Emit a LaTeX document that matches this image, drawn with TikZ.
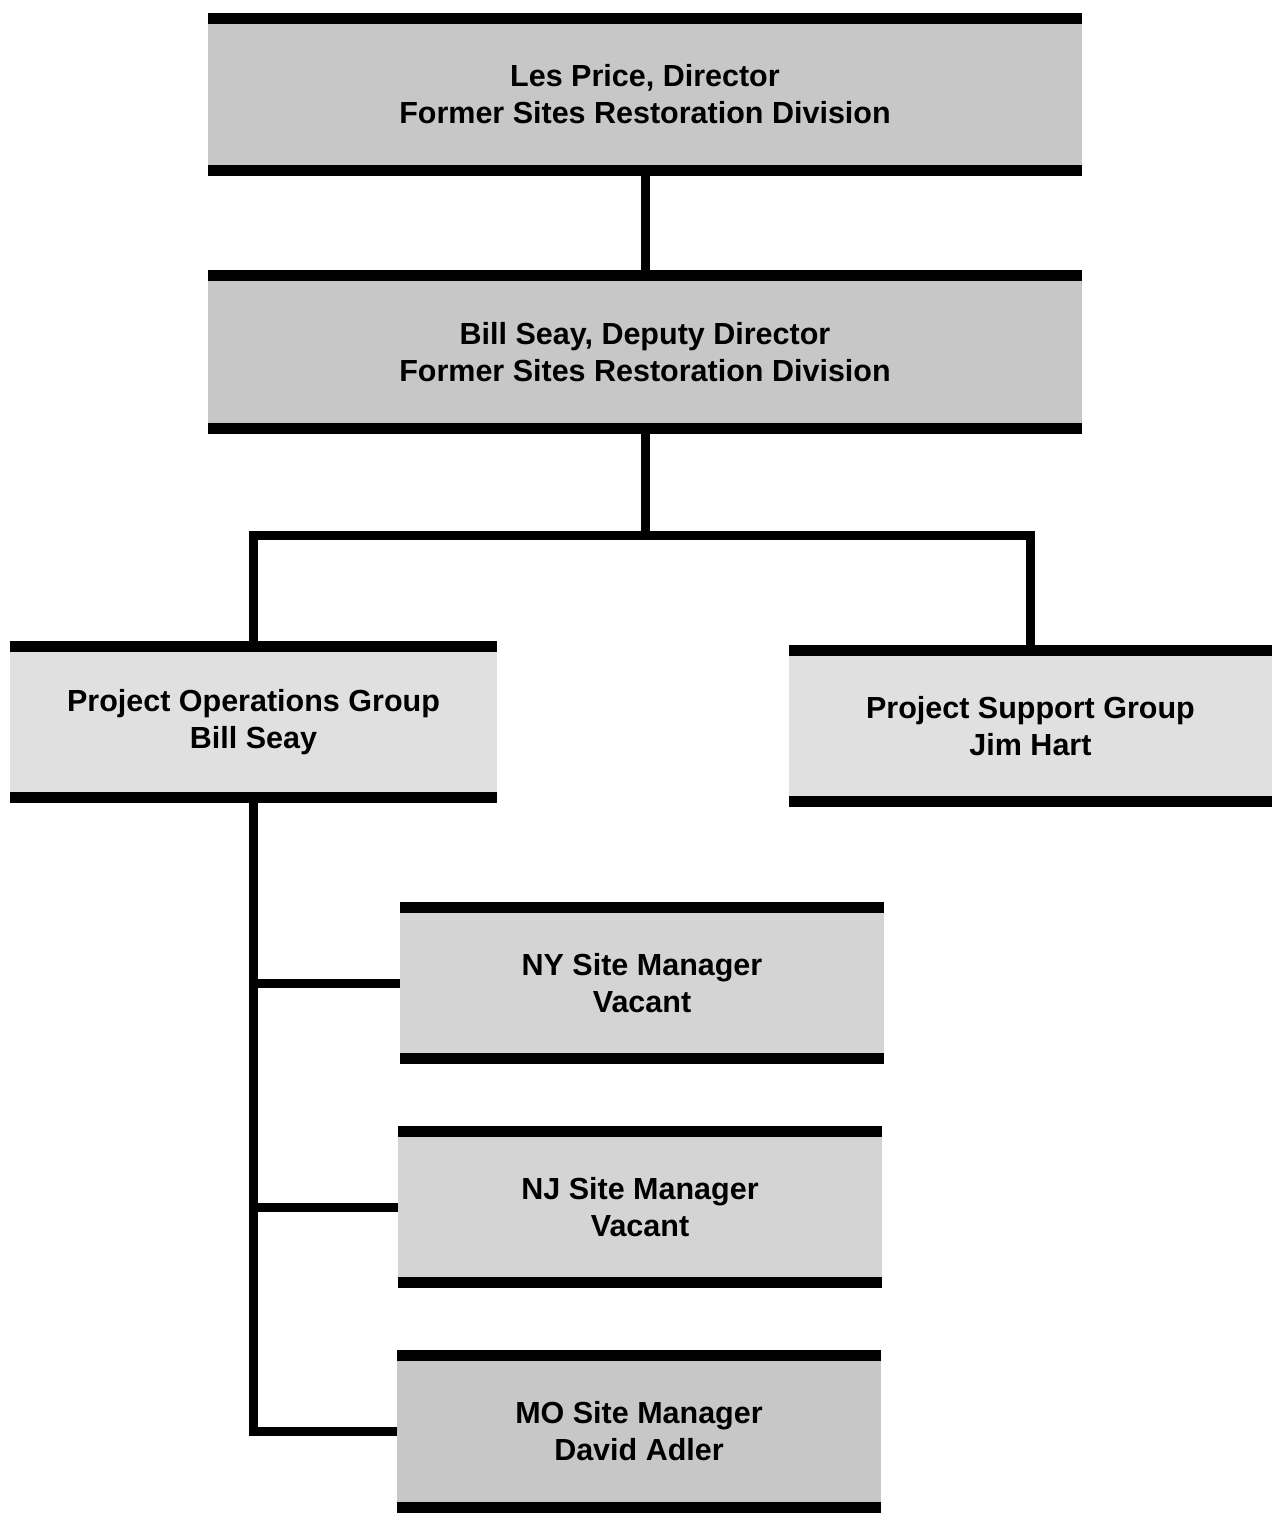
\documentclass[tikz,border=0pt]{standalone}
\usepackage{fontspec}
\setmainfont{Liberation Sans}
\begin{document}
\begin{tikzpicture}[x=1pt,y=-1pt,
  orgbox/.style={fill=#1, draw=none, inner sep=0pt, align=center,
    font=\fontsize{30.5}{37}\selectfont\bfseries,
    execute at end node={\vspace{10pt}}},
  bar/.style={line width=11pt, line cap=butt},
  conn/.style={line width=9pt, line cap=butt}]
\useasboundingbox (0,0) rectangle (1274,1517);
\node[orgbox=black!22, minimum width=874pt, minimum height=151pt] (b1) at (645,94.5)
  {Les Price, Director\\Former Sites Restoration Division};
\node[orgbox=black!22, minimum width=874pt, minimum height=152pt] (b2) at (645,352)
  {Bill Seay, Deputy Director\\Former Sites Restoration Division};
\node[orgbox=black!12, minimum width=487pt, minimum height=150pt] (b3) at (253.5,722)
  {Project Operations Group\\Bill Seay};
\node[orgbox=black!12, minimum width=483pt, minimum height=150pt] (b4) at (1030.5,726)
  {Project Support Group\\Jim Hart};
\node[orgbox=black!17, minimum width=484pt, minimum height=150pt] (b5) at (642,983)
  {NY Site Manager\\Vacant};
\node[orgbox=black!17, minimum width=484pt, minimum height=150pt] (b6) at (640,1207)
  {NJ Site Manager\\Vacant};
\node[orgbox=black!22, minimum width=484pt, minimum height=151pt] (b7) at (639,1431.5)
  {MO Site Manager\\David Adler};
\foreach \n in {b1,b2,b3,b4,b5,b6,b7}
  \draw[bar] (\n.north west) -- (\n.north east) (\n.south west) -- (\n.south east);
\coordinate (j) at (645,535);
\draw[conn] (b1.south) -- (b2.north);
\draw[conn] (b2.south) -- (j);
\draw[conn] (b3.north) |- (j) -| (b4.north);
\draw[conn] (b3.south) |- (b7.west);
\draw[conn] (b3.south |- b5.west) -- (b5.west);
\draw[conn] (b3.south |- b6.west) -- (b6.west);
\end{tikzpicture}
\end{document}
